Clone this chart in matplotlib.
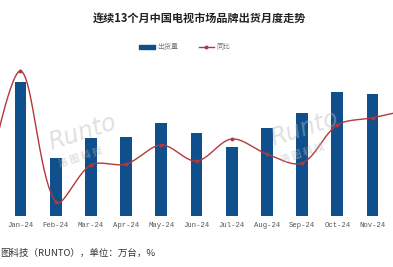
import numpy as np
import matplotlib
matplotlib.use("Agg")
import matplotlib.pyplot as plt
from matplotlib.patches import Patch
from matplotlib.lines import Line2D

plt.rcParams['font.family'] = ['Noto Sans CJK SC', 'DejaVu Sans']

# 数据（从图中估读，单位：万台 / %）
months = ['Dec-23', 'Jan-24', 'Feb-24', 'Mar-24', 'Apr-24', 'May-24', 'Jun-24',
          'Jul-24', 'Aug-24', 'Sep-24', 'Oct-24', 'Nov-24', 'Dec-24']
shipments = [360, 335, 145, 195, 198, 233, 208, 173, 220, 258, 310, 305, 330]
yoy = [-11, 37.6, -14.8, 0, 0.4, 8, 1.6, 10.4, 4.4, 0.8, 16, 18.9, 22]

bar_color = '#0f4f8c'
line_color = '#b5373d'


def smooth_line(x, y, sx=35.2, sy=2.5, t=1 / 3, n=40):
    # 类似 Excel 平滑线：在像素空间里按相邻段长分配控制点的三次贝塞尔
    P = np.column_stack([np.asarray(x, float) * sx, np.asarray(y, float) * sy])
    k = len(P)
    cin = P.copy()
    cout = P.copy()
    for i in range(1, k - 1):
        v = P[i + 1] - P[i - 1]
        d0 = np.linalg.norm(P[i] - P[i - 1])
        d1 = np.linalg.norm(P[i + 1] - P[i])
        cin[i] = P[i] - v * t * d0 / (d0 + d1)
        cout[i] = P[i] + v * t * d1 / (d0 + d1)
    s = np.linspace(0, 1, n)[:, None]
    segs = []
    for i in range(k - 1):
        b = ((1 - s) ** 3 * P[i] + 3 * (1 - s) ** 2 * s * cout[i]
             + 3 * (1 - s) * s ** 2 * cin[i + 1] + s ** 3 * P[i + 1])
        segs.append(b)
    pts = np.vstack(segs)
    return pts[:, 0] / sx, pts[:, 1] / sy


fig = plt.figure(figsize=(3.93, 2.67), dpi=100)
ax = fig.add_axes([0, 0.191, 1, 0.584])
x = np.arange(len(months))

ax.bar(x, shipments, width=0.33, color=bar_color, zorder=2)
ax.set_ylim(0, 390)
# 只有 Jan-24 到 Nov-24 的标签落在画面内
ax.set_xticks(x[1:-1])
ax.set_xticklabels(months[1:-1], family='Liberation Mono', fontsize=5.2, color='#555555')
ax.tick_params(axis='x', length=0, pad=4)
ax.set_yticks([])
for s in ax.spines.values():
    s.set_visible(False)

ax2 = ax.twinx()
xs, ys = smooth_line(x, yoy)
ax2.plot(xs, ys, color=line_color, lw=1.0, zorder=3)
ax2.plot(x, yoy, 'o', color=line_color, ms=1.8, zorder=4)
ax2.set_ylim(-20.4, 42)
ax2.set_yticks([])
for s in ax2.spines.values():
    s.set_visible(False)

# twinx 共用 x 轴，最后再定范围（画面左右两端的 Dec 被裁掉）
ax.set_xlim(1 - 20.5 / 35.2, 1 + (393 - 20.5) / 35.2)

# 水印
for wx, wy in [(0.21, 0.505), (0.775, 0.52)]:
    fig.text(wx, wy, 'Runto', fontsize=17, style='italic', color='#bbbbbb',
             alpha=0.45, rotation=18, ha='center', va='center', family='DejaVu Sans')
    fig.text(wx - 0.005, wy - 0.095, '洛 图 科 技', fontsize=7, color='#bbbbbb',
             alpha=0.45, rotation=18, ha='center', va='center', fontweight='bold')

fig.text(0.508, 0.932, '连续13个月中国电视市场品牌出货月度走势', ha='center', va='center',
         fontsize=8, fontweight='bold', color='#222222')

handles = [Patch(color=bar_color, label='出货量'),
           Line2D([0], [0], color=line_color, lw=1, marker='o', ms=1.8, label='同比')]
fig.legend(handles=handles, loc='center', bbox_to_anchor=(0.47, 0.823), ncol=2,
           frameon=False, fontsize=5, handlelength=2.2, handleheight=0.6,
           columnspacing=3.0, handletextpad=0.3, labelcolor='#777777')

fig.text(0.0, 0.052, '图科技（RUNTO），单位：万台，%', ha='left', va='center',
         fontsize=6.8, color='#333333')

fig.savefig('out.png', dpi=100)
